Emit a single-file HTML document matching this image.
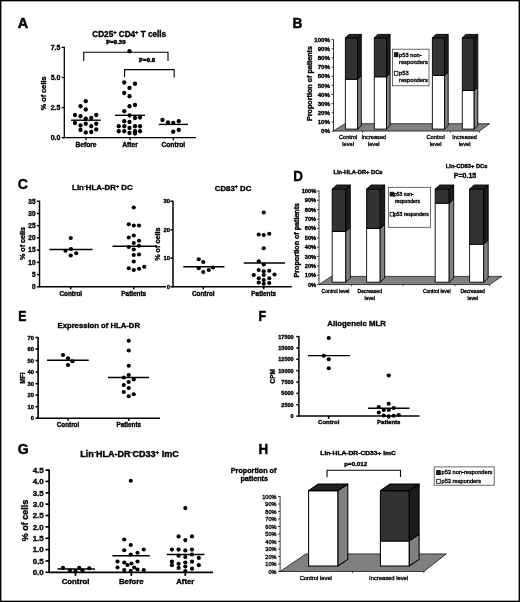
<!DOCTYPE html>
<html lang="en"><head><meta charset="utf-8"><title>Figure</title>
<style>
html,body{margin:0;padding:0;background:#fff;}
body{width:520px;height:602px;overflow:hidden;}
svg{display:block;}
svg text{fill:#000;}
svg text[font-weight=bold]{stroke:#000;stroke-width:0.36px;}
svg text[font-weight=normal]{stroke:#000;stroke-width:0.34px;}
</style></head><body>
<svg width="520" height="602" viewBox="0 0 520 602">
<rect x="0" y="0" width="520" height="602" fill="#fff"/>
<defs><filter id="soft" filterUnits="userSpaceOnUse" x="0" y="0" width="520" height="602"><feGaussianBlur stdDeviation="0.38"/></filter></defs>
<rect x="0.7" y="0.65" width="518.6" height="600.7" fill="none" stroke="#000" stroke-width="1.4"/>
<g filter="url(#soft)">
<text x="17.8" y="28" font-size="14.5" font-weight="bold" text-anchor="start" font-family='"Liberation Sans", Arial, sans-serif' style="stroke-width:0.45px">A</text>
<g transform="translate(292.4 27.6) scale(0.95 1)">
<text x="0" y="0" font-size="14.5" font-weight="bold" text-anchor="start" font-family='"Liberation Sans", Arial, sans-serif' style="stroke-width:0.45px">B</text>
</g>
<g transform="translate(17.8 188.5) scale(0.97 1)">
<text x="0" y="0" font-size="14.5" font-weight="bold" text-anchor="start" font-family='"Liberation Sans", Arial, sans-serif' style="stroke-width:0.45px">C</text>
</g>
<g transform="translate(293.3 181.3) scale(0.92 1)">
<text x="0" y="0" font-size="14.5" font-weight="bold" text-anchor="start" font-family='"Liberation Sans", Arial, sans-serif' style="stroke-width:0.45px">D</text>
</g>
<g transform="translate(18.3 320.8) scale(0.84 1)">
<text x="0" y="0" font-size="14.5" font-weight="bold" text-anchor="start" font-family='"Liberation Sans", Arial, sans-serif' style="stroke-width:0.45px">E</text>
</g>
<g transform="translate(258.5 320.6) scale(0.86 1)">
<text x="0" y="0" font-size="14.5" font-weight="bold" text-anchor="start" font-family='"Liberation Sans", Arial, sans-serif' style="stroke-width:0.45px">F</text>
</g>
<g transform="translate(17.8 453.5) scale(0.97 1)">
<text x="0" y="0" font-size="14.5" font-weight="bold" text-anchor="start" font-family='"Liberation Sans", Arial, sans-serif' style="stroke-width:0.45px">G</text>
</g>
<g transform="translate(258.4 453.5) scale(0.92 1)">
<text x="0" y="0" font-size="14.5" font-weight="bold" text-anchor="start" font-family='"Liberation Sans", Arial, sans-serif' style="stroke-width:0.45px">H</text>
</g>
<g transform="translate(129.2 37.0) scale(1 1)">
<text x="0" y="0" font-size="8.2" font-weight="bold" text-anchor="middle" style="white-space:pre" font-family='"Liberation Sans", Arial, sans-serif'><tspan dy="0">CD25</tspan><tspan dy="-2.8" font-size="5.6">+</tspan><tspan dy="2.8"> CD4</tspan><tspan dy="-2.8" font-size="5.6">+</tspan><tspan dy="2.8"> T cells</tspan></text></g>
<line x1="64.3" y1="46.8" x2="64.3" y2="138.2" stroke="#000" stroke-width="1.3"/>
<line x1="63.8" y1="137.7" x2="196" y2="137.7" stroke="#000" stroke-width="1.3"/>
<line x1="61.699999999999996" y1="47.32499999999999" x2="64.3" y2="47.32499999999999" stroke="#000" stroke-width="1.3"/>
<text x="60.3" y="49.80899999999999" font-size="6.9" font-weight="bold" text-anchor="end" font-family='"Liberation Sans", Arial, sans-serif'>7.5</text>
<line x1="61.699999999999996" y1="77.44999999999999" x2="64.3" y2="77.44999999999999" stroke="#000" stroke-width="1.3"/>
<text x="60.3" y="79.93399999999998" font-size="6.9" font-weight="bold" text-anchor="end" font-family='"Liberation Sans", Arial, sans-serif'>5.0</text>
<line x1="61.699999999999996" y1="107.57499999999999" x2="64.3" y2="107.57499999999999" stroke="#000" stroke-width="1.3"/>
<text x="60.3" y="110.05899999999998" font-size="6.9" font-weight="bold" text-anchor="end" font-family='"Liberation Sans", Arial, sans-serif'>2.5</text>
<line x1="61.699999999999996" y1="137.7" x2="64.3" y2="137.7" stroke="#000" stroke-width="1.3"/>
<text x="60.3" y="140.184" font-size="6.9" font-weight="bold" text-anchor="end" font-family='"Liberation Sans", Arial, sans-serif'>0.0</text>
<line x1="86" y1="137.7" x2="86" y2="140.29999999999998" stroke="#000" stroke-width="1.3"/>
<text x="86" y="147" font-size="6.7" font-weight="bold" text-anchor="middle" font-family='"Liberation Sans", Arial, sans-serif'>Before</text>
<line x1="130" y1="137.7" x2="130" y2="140.29999999999998" stroke="#000" stroke-width="1.3"/>
<text x="130" y="147" font-size="6.7" font-weight="bold" text-anchor="middle" font-family='"Liberation Sans", Arial, sans-serif'>After</text>
<line x1="173.3" y1="137.7" x2="173.3" y2="140.29999999999998" stroke="#000" stroke-width="1.3"/>
<text x="173.3" y="147" font-size="6.7" font-weight="bold" text-anchor="middle" font-family='"Liberation Sans", Arial, sans-serif'>Control</text>
<text x="45.6" y="93.3" font-size="7.3" font-weight="bold" text-anchor="middle" font-family='"Liberation Sans", Arial, sans-serif' transform="rotate(-90 45.6 93.3)">% of cells</text>
<text x="115.7" y="43.8" font-size="6.7" font-weight="bold" text-anchor="middle" font-family='"Liberation Serif", "Times New Roman", serif' style="stroke-width:0.5px">P=0.39</text>
<text x="147" y="61.7" font-size="6.7" font-weight="bold" text-anchor="middle" font-family='"Liberation Serif", "Times New Roman", serif' style="stroke-width:0.5px">P=0.6</text>
<path d="M83.7 61V52.3H168V61" fill="none" stroke="#000" stroke-width="1.1"/>
<path d="M124.6 77V69.6H174.2V77.5" fill="none" stroke="#000" stroke-width="1.1"/>
<line x1="71" y1="120.2" x2="100.8" y2="120.2" stroke="#000" stroke-width="1.4"/>
<line x1="115" y1="115.3" x2="145" y2="115.3" stroke="#000" stroke-width="1.4"/>
<line x1="158.8" y1="124.4" x2="188" y2="124.4" stroke="#000" stroke-width="1.4"/>
<circle cx="85.75" cy="101.25" r="2.15"/>
<circle cx="80.5" cy="106.25" r="2.15"/>
<circle cx="85.75" cy="109.5" r="2.15"/>
<circle cx="75" cy="115" r="2.15"/>
<circle cx="80.5" cy="116.25" r="2.15"/>
<circle cx="96.25" cy="115" r="2.15"/>
<circle cx="85.75" cy="118.75" r="2.15"/>
<circle cx="91.25" cy="118" r="2.15"/>
<circle cx="75" cy="123" r="2.15"/>
<circle cx="85.75" cy="123.75" r="2.15"/>
<circle cx="96.25" cy="123.75" r="2.15"/>
<circle cx="80.5" cy="125.5" r="2.15"/>
<circle cx="91.25" cy="126.25" r="2.15"/>
<circle cx="80.5" cy="130" r="2.15"/>
<circle cx="96.25" cy="129.5" r="2.15"/>
<circle cx="85.75" cy="132.5" r="2.15"/>
<circle cx="91.25" cy="132" r="2.15"/>
<circle cx="129.5" cy="51.25" r="2.15"/>
<circle cx="124.25" cy="82.5" r="2.15"/>
<circle cx="135" cy="83.75" r="2.15"/>
<circle cx="129.5" cy="88" r="2.15"/>
<circle cx="124.25" cy="93" r="2.15"/>
<circle cx="129.5" cy="96.25" r="2.15"/>
<circle cx="135" cy="105" r="2.15"/>
<circle cx="129.5" cy="106.25" r="2.15"/>
<circle cx="124.25" cy="111.25" r="2.15"/>
<circle cx="129.5" cy="115.5" r="2.15"/>
<circle cx="140" cy="117.5" r="2.15"/>
<circle cx="135" cy="118" r="2.15"/>
<circle cx="124.25" cy="121.25" r="2.15"/>
<circle cx="129.5" cy="122" r="2.15"/>
<circle cx="118.75" cy="126.25" r="2.15"/>
<circle cx="124.25" cy="126.25" r="2.15"/>
<circle cx="135" cy="126.25" r="2.15"/>
<circle cx="140" cy="126.25" r="2.15"/>
<circle cx="129.5" cy="128" r="2.15"/>
<circle cx="118.75" cy="131.25" r="2.15"/>
<circle cx="124.25" cy="131.25" r="2.15"/>
<circle cx="135" cy="131.25" r="2.15"/>
<circle cx="140" cy="131.25" r="2.15"/>
<circle cx="129.5" cy="133" r="2.15"/>
<circle cx="135" cy="133.5" r="2.15"/>
<circle cx="162.5" cy="120" r="2.15"/>
<circle cx="168" cy="122.5" r="2.15"/>
<circle cx="173.25" cy="123" r="2.15"/>
<circle cx="178.75" cy="121.25" r="2.15"/>
<circle cx="173.25" cy="131.75" r="2.15"/>
<circle cx="178.75" cy="130" r="2.15"/>
<g transform="translate(102.4 190.3) scale(1 1)">
<text x="0" y="0" font-size="7.9" font-weight="bold" text-anchor="middle" style="white-space:pre" font-family='"Liberation Sans", Arial, sans-serif'><tspan dy="0">Lin</tspan><tspan dy="-2.7" font-size="5.4">-</tspan><tspan dy="2.7">HLA-DR</tspan><tspan dy="-2.7" font-size="5.4">+</tspan><tspan dy="2.7"> DC</tspan></text></g>
<line x1="39.5" y1="200.75" x2="39.5" y2="287.25" stroke="#000" stroke-width="1.5"/>
<line x1="39.0" y1="286.75" x2="166" y2="286.75" stroke="#000" stroke-width="1.5"/>
<line x1="36.9" y1="201.245" x2="39.5" y2="201.245" stroke="#000" stroke-width="1.5"/>
<text x="35.5" y="203.585" font-size="6.5" font-weight="bold" text-anchor="end" font-family='"Liberation Sans", Arial, sans-serif'>35</text>
<line x1="36.9" y1="213.45999999999998" x2="39.5" y2="213.45999999999998" stroke="#000" stroke-width="1.5"/>
<text x="35.5" y="215.79999999999998" font-size="6.5" font-weight="bold" text-anchor="end" font-family='"Liberation Sans", Arial, sans-serif'>30</text>
<line x1="36.9" y1="225.675" x2="39.5" y2="225.675" stroke="#000" stroke-width="1.5"/>
<text x="35.5" y="228.01500000000001" font-size="6.5" font-weight="bold" text-anchor="end" font-family='"Liberation Sans", Arial, sans-serif'>25</text>
<line x1="36.9" y1="237.89" x2="39.5" y2="237.89" stroke="#000" stroke-width="1.5"/>
<text x="35.5" y="240.23" font-size="6.5" font-weight="bold" text-anchor="end" font-family='"Liberation Sans", Arial, sans-serif'>20</text>
<line x1="36.9" y1="250.105" x2="39.5" y2="250.105" stroke="#000" stroke-width="1.5"/>
<text x="35.5" y="252.445" font-size="6.5" font-weight="bold" text-anchor="end" font-family='"Liberation Sans", Arial, sans-serif'>15</text>
<line x1="36.9" y1="262.32" x2="39.5" y2="262.32" stroke="#000" stroke-width="1.5"/>
<text x="35.5" y="264.65999999999997" font-size="6.5" font-weight="bold" text-anchor="end" font-family='"Liberation Sans", Arial, sans-serif'>10</text>
<line x1="36.9" y1="274.535" x2="39.5" y2="274.535" stroke="#000" stroke-width="1.5"/>
<text x="35.5" y="276.875" font-size="6.5" font-weight="bold" text-anchor="end" font-family='"Liberation Sans", Arial, sans-serif'>5</text>
<line x1="36.9" y1="286.75" x2="39.5" y2="286.75" stroke="#000" stroke-width="1.5"/>
<text x="35.5" y="289.09" font-size="6.5" font-weight="bold" text-anchor="end" font-family='"Liberation Sans", Arial, sans-serif'>0</text>
<line x1="70.75" y1="286.75" x2="70.75" y2="289.35" stroke="#000" stroke-width="1.5"/>
<text x="70.75" y="295.5" font-size="6.4" font-weight="bold" text-anchor="middle" font-family='"Liberation Sans", Arial, sans-serif'>Control</text>
<line x1="133.75" y1="286.75" x2="133.75" y2="289.35" stroke="#000" stroke-width="1.5"/>
<text x="133.75" y="295.5" font-size="6.4" font-weight="bold" text-anchor="middle" font-family='"Liberation Sans", Arial, sans-serif'>Patients</text>
<text x="25.2" y="243.5" font-size="7.2" font-weight="bold" text-anchor="middle" font-family='"Liberation Sans", Arial, sans-serif' transform="rotate(-90 25.2 243.5)">% of cells</text>
<line x1="49.5" y1="249.5" x2="92.5" y2="249.5" stroke="#000" stroke-width="1.4"/>
<line x1="112.5" y1="246.25" x2="157" y2="246.25" stroke="#000" stroke-width="1.4"/>
<circle cx="70.75" cy="238" r="2.1"/>
<circle cx="65.5" cy="250.75" r="2.1"/>
<circle cx="71" cy="249" r="2.1"/>
<circle cx="76.25" cy="253.25" r="2.1"/>
<circle cx="70.75" cy="255.5" r="2.1"/>
<circle cx="133.75" cy="207.5" r="2.1"/>
<circle cx="128.75" cy="224.25" r="2.1"/>
<circle cx="133.75" cy="225.5" r="2.1"/>
<circle cx="139" cy="225.5" r="2.1"/>
<circle cx="133.75" cy="235.5" r="2.1"/>
<circle cx="128.75" cy="237.5" r="2.1"/>
<circle cx="139" cy="240.75" r="2.1"/>
<circle cx="133.75" cy="243" r="2.1"/>
<circle cx="128.75" cy="247" r="2.1"/>
<circle cx="139" cy="245.75" r="2.1"/>
<circle cx="133.75" cy="249.5" r="2.1"/>
<circle cx="139" cy="254.5" r="2.1"/>
<circle cx="133.75" cy="255" r="2.1"/>
<circle cx="133.75" cy="261.5" r="2.1"/>
<circle cx="128.75" cy="268.25" r="2.1"/>
<circle cx="144.25" cy="266.75" r="2.1"/>
<circle cx="133.75" cy="270" r="2.1"/>
<circle cx="139" cy="268.75" r="2.1"/>
<g transform="translate(233.1 190.5) scale(1 1)">
<text x="0" y="0" font-size="7.8" font-weight="bold" text-anchor="middle" style="white-space:pre" font-family='"Liberation Sans", Arial, sans-serif'><tspan dy="0">CD83</tspan><tspan dy="-2.7" font-size="5.4">+</tspan><tspan dy="2.7"> DC</tspan></text></g>
<line x1="173" y1="200.75" x2="173" y2="287.25" stroke="#000" stroke-width="1.5"/>
<line x1="172.5" y1="286.75" x2="291.75" y2="286.75" stroke="#000" stroke-width="1.5"/>
<line x1="170.4" y1="201.25" x2="173" y2="201.25" stroke="#000" stroke-width="1.5"/>
<text x="169.9" y="203.338" font-size="5.8" font-weight="bold" text-anchor="end" font-family='"Liberation Sans", Arial, sans-serif'>30</text>
<line x1="170.4" y1="229.75" x2="173" y2="229.75" stroke="#000" stroke-width="1.5"/>
<text x="169.9" y="231.838" font-size="5.8" font-weight="bold" text-anchor="end" font-family='"Liberation Sans", Arial, sans-serif'>20</text>
<line x1="170.4" y1="258.25" x2="173" y2="258.25" stroke="#000" stroke-width="1.5"/>
<text x="169.9" y="260.338" font-size="5.8" font-weight="bold" text-anchor="end" font-family='"Liberation Sans", Arial, sans-serif'>10</text>
<line x1="170.4" y1="286.75" x2="173" y2="286.75" stroke="#000" stroke-width="1.5"/>
<text x="169.9" y="288.838" font-size="5.8" font-weight="bold" text-anchor="end" font-family='"Liberation Sans", Arial, sans-serif'>0</text>
<line x1="203.25" y1="286.75" x2="203.25" y2="289.35" stroke="#000" stroke-width="1.5"/>
<text x="203.25" y="295.5" font-size="6.4" font-weight="bold" text-anchor="middle" font-family='"Liberation Sans", Arial, sans-serif'>Control</text>
<line x1="263.75" y1="286.75" x2="263.75" y2="289.35" stroke="#000" stroke-width="1.5"/>
<text x="263.75" y="295.5" font-size="6.4" font-weight="bold" text-anchor="middle" font-family='"Liberation Sans", Arial, sans-serif'>Patients</text>
<text x="160.3" y="244.2" font-size="7.2" font-weight="bold" text-anchor="middle" font-family='"Liberation Sans", Arial, sans-serif' transform="rotate(-90 160.3 244.2)">% of cells</text>
<line x1="183.25" y1="266.75" x2="224.5" y2="266.75" stroke="#000" stroke-width="1.4"/>
<line x1="243.75" y1="263" x2="285" y2="263" stroke="#000" stroke-width="1.4"/>
<circle cx="198.75" cy="259.25" r="2.1"/>
<circle cx="203.25" cy="262" r="2.1"/>
<circle cx="198.75" cy="268.25" r="2.1"/>
<circle cx="213" cy="267.5" r="2.1"/>
<circle cx="208.75" cy="270" r="2.1"/>
<circle cx="203.25" cy="272" r="2.1"/>
<circle cx="263.75" cy="212.5" r="2.1"/>
<circle cx="258.75" cy="234.5" r="2.1"/>
<circle cx="263.75" cy="235" r="2.1"/>
<circle cx="269.25" cy="233.75" r="2.1"/>
<circle cx="263.75" cy="248.25" r="2.1"/>
<circle cx="258.75" cy="261.25" r="2.1"/>
<circle cx="263.75" cy="264.5" r="2.1"/>
<circle cx="258.75" cy="270" r="2.1"/>
<circle cx="269.25" cy="270.75" r="2.1"/>
<circle cx="263.75" cy="271.25" r="2.1"/>
<circle cx="253.75" cy="275" r="2.1"/>
<circle cx="263.75" cy="275" r="2.1"/>
<circle cx="274.5" cy="274.5" r="2.1"/>
<circle cx="258.75" cy="278.25" r="2.1"/>
<circle cx="269.25" cy="278.25" r="2.1"/>
<circle cx="263.75" cy="280" r="2.1"/>
<circle cx="258.75" cy="282.5" r="2.1"/>
<circle cx="269.25" cy="283" r="2.1"/>
<circle cx="263.75" cy="283.75" r="2.1"/>
<text x="98.75" y="328" font-size="7.7" font-weight="bold" text-anchor="middle" font-family='"Liberation Sans", Arial, sans-serif'>Expression of HLA-DR</text>
<line x1="38.1" y1="336.99" x2="38.1" y2="418.7" stroke="#000" stroke-width="1.6"/>
<line x1="37.6" y1="418.2" x2="160" y2="418.2" stroke="#000" stroke-width="1.6"/>
<line x1="35.5" y1="337.49" x2="38.1" y2="337.49" stroke="#000" stroke-width="1.6"/>
<text x="34.0" y="339.57800000000003" font-size="5.8" font-weight="bold" text-anchor="end" font-family='"Liberation Sans", Arial, sans-serif'>70</text>
<line x1="35.5" y1="349.02" x2="38.1" y2="349.02" stroke="#000" stroke-width="1.6"/>
<text x="34.0" y="351.108" font-size="5.8" font-weight="bold" text-anchor="end" font-family='"Liberation Sans", Arial, sans-serif'>60</text>
<line x1="35.5" y1="360.55" x2="38.1" y2="360.55" stroke="#000" stroke-width="1.6"/>
<text x="34.0" y="362.63800000000003" font-size="5.8" font-weight="bold" text-anchor="end" font-family='"Liberation Sans", Arial, sans-serif'>50</text>
<line x1="35.5" y1="372.08" x2="38.1" y2="372.08" stroke="#000" stroke-width="1.6"/>
<text x="34.0" y="374.168" font-size="5.8" font-weight="bold" text-anchor="end" font-family='"Liberation Sans", Arial, sans-serif'>40</text>
<line x1="35.5" y1="383.61" x2="38.1" y2="383.61" stroke="#000" stroke-width="1.6"/>
<text x="34.0" y="385.69800000000004" font-size="5.8" font-weight="bold" text-anchor="end" font-family='"Liberation Sans", Arial, sans-serif'>30</text>
<line x1="35.5" y1="395.14" x2="38.1" y2="395.14" stroke="#000" stroke-width="1.6"/>
<text x="34.0" y="397.228" font-size="5.8" font-weight="bold" text-anchor="end" font-family='"Liberation Sans", Arial, sans-serif'>20</text>
<line x1="35.5" y1="406.66999999999996" x2="38.1" y2="406.66999999999996" stroke="#000" stroke-width="1.6"/>
<text x="34.0" y="408.758" font-size="5.8" font-weight="bold" text-anchor="end" font-family='"Liberation Sans", Arial, sans-serif'>10</text>
<line x1="35.5" y1="418.2" x2="38.1" y2="418.2" stroke="#000" stroke-width="1.6"/>
<text x="34.0" y="420.288" font-size="5.8" font-weight="bold" text-anchor="end" font-family='"Liberation Sans", Arial, sans-serif'>0</text>
<line x1="68" y1="418.2" x2="68" y2="420.8" stroke="#000" stroke-width="1.6"/>
<text x="68" y="426.6" font-size="6.3" font-weight="bold" text-anchor="middle" font-family='"Liberation Sans", Arial, sans-serif'>Control</text>
<line x1="128.75" y1="418.2" x2="128.75" y2="420.8" stroke="#000" stroke-width="1.6"/>
<text x="128.75" y="426.6" font-size="6.3" font-weight="bold" text-anchor="middle" font-family='"Liberation Sans", Arial, sans-serif'>Patients</text>
<text x="24.6" y="378.1" font-size="6.5" font-weight="bold" text-anchor="middle" font-family='"Liberation Sans", Arial, sans-serif' transform="rotate(-90 24.6 378.1)">MFI</text>
<line x1="47" y1="360.3" x2="88.75" y2="360.3" stroke="#000" stroke-width="1.4"/>
<line x1="108" y1="377.5" x2="149" y2="377.5" stroke="#000" stroke-width="1.4"/>
<circle cx="63" cy="355" r="2.1"/>
<circle cx="68" cy="358.25" r="2.1"/>
<circle cx="72.5" cy="361.25" r="2.1"/>
<circle cx="68" cy="365" r="2.1"/>
<circle cx="128.75" cy="340.75" r="2.1"/>
<circle cx="128.75" cy="350.5" r="2.1"/>
<circle cx="128.75" cy="365.75" r="2.1"/>
<circle cx="128.75" cy="375" r="2.1"/>
<circle cx="123.75" cy="377.5" r="2.1"/>
<circle cx="133.75" cy="379.5" r="2.1"/>
<circle cx="128.75" cy="382" r="2.1"/>
<circle cx="123.75" cy="385" r="2.1"/>
<circle cx="128.75" cy="388" r="2.1"/>
<circle cx="123.75" cy="392" r="2.1"/>
<circle cx="133.75" cy="394.25" r="2.1"/>
<circle cx="128.75" cy="396.25" r="2.1"/>
<text x="356.6" y="326.3" font-size="7.8" font-weight="bold" text-anchor="middle" font-family='"Liberation Sans", Arial, sans-serif'>Allogeneic MLR</text>
<line x1="298.9" y1="336.0975" x2="298.9" y2="416.6" stroke="#000" stroke-width="1.5"/>
<line x1="298.4" y1="416.1" x2="419.5" y2="416.1" stroke="#000" stroke-width="1.5"/>
<line x1="296.29999999999995" y1="336.5975" x2="298.9" y2="336.5975" stroke="#000" stroke-width="1.5"/>
<text x="293.59999999999997" y="338.57750000000004" font-size="5.5" font-weight="bold" text-anchor="end" font-family='"Liberation Sans", Arial, sans-serif'>17500</text>
<line x1="296.29999999999995" y1="347.95500000000004" x2="298.9" y2="347.95500000000004" stroke="#000" stroke-width="1.5"/>
<text x="293.59999999999997" y="349.93500000000006" font-size="5.5" font-weight="bold" text-anchor="end" font-family='"Liberation Sans", Arial, sans-serif'>15000</text>
<line x1="296.29999999999995" y1="359.3125" x2="298.9" y2="359.3125" stroke="#000" stroke-width="1.5"/>
<text x="293.59999999999997" y="361.2925" font-size="5.5" font-weight="bold" text-anchor="end" font-family='"Liberation Sans", Arial, sans-serif'>12500</text>
<line x1="296.29999999999995" y1="370.67" x2="298.9" y2="370.67" stroke="#000" stroke-width="1.5"/>
<text x="293.59999999999997" y="372.65000000000003" font-size="5.5" font-weight="bold" text-anchor="end" font-family='"Liberation Sans", Arial, sans-serif'>10000</text>
<line x1="296.29999999999995" y1="382.02750000000003" x2="298.9" y2="382.02750000000003" stroke="#000" stroke-width="1.5"/>
<text x="293.59999999999997" y="384.00750000000005" font-size="5.5" font-weight="bold" text-anchor="end" font-family='"Liberation Sans", Arial, sans-serif'>7500</text>
<line x1="296.29999999999995" y1="393.38500000000005" x2="298.9" y2="393.38500000000005" stroke="#000" stroke-width="1.5"/>
<text x="293.59999999999997" y="395.36500000000007" font-size="5.5" font-weight="bold" text-anchor="end" font-family='"Liberation Sans", Arial, sans-serif'>5000</text>
<line x1="296.29999999999995" y1="404.7425" x2="298.9" y2="404.7425" stroke="#000" stroke-width="1.5"/>
<text x="293.59999999999997" y="406.7225" font-size="5.5" font-weight="bold" text-anchor="end" font-family='"Liberation Sans", Arial, sans-serif'>2500</text>
<line x1="296.29999999999995" y1="416.1" x2="298.9" y2="416.1" stroke="#000" stroke-width="1.5"/>
<text x="293.59999999999997" y="418.08000000000004" font-size="5.5" font-weight="bold" text-anchor="end" font-family='"Liberation Sans", Arial, sans-serif'>0</text>
<line x1="328.75" y1="416.1" x2="328.75" y2="418.70000000000005" stroke="#000" stroke-width="1.5"/>
<text x="328.75" y="423.8" font-size="6.0" font-weight="bold" text-anchor="middle" font-family='"Liberation Sans", Arial, sans-serif'>Control</text>
<line x1="388.75" y1="416.1" x2="388.75" y2="418.70000000000005" stroke="#000" stroke-width="1.5"/>
<text x="388.75" y="423.8" font-size="6.0" font-weight="bold" text-anchor="middle" font-family='"Liberation Sans", Arial, sans-serif'>Patients</text>
<text x="274.7" y="376.3" font-size="6.4" font-weight="bold" text-anchor="middle" font-family='"Liberation Sans", Arial, sans-serif' transform="rotate(-90 274.7 376.3)">CPM</text>
<line x1="308" y1="355.6" x2="350" y2="355.6" stroke="#000" stroke-width="1.4"/>
<line x1="368" y1="408.25" x2="409.5" y2="408.25" stroke="#000" stroke-width="1.4"/>
<circle cx="328.75" cy="338" r="2.1"/>
<circle cx="323.75" cy="355.75" r="2.1"/>
<circle cx="328.75" cy="359.25" r="2.1"/>
<circle cx="328.75" cy="368.25" r="2.1"/>
<circle cx="388.75" cy="375.5" r="2.1"/>
<circle cx="388.75" cy="403.75" r="2.1"/>
<circle cx="378.75" cy="407" r="2.1"/>
<circle cx="393.75" cy="408" r="2.1"/>
<circle cx="383.75" cy="410" r="2.1"/>
<circle cx="388.75" cy="410" r="2.1"/>
<circle cx="378.75" cy="412.5" r="2.1"/>
<circle cx="383.75" cy="415.5" r="2.1"/>
<circle cx="388.75" cy="416.25" r="2.1"/>
<circle cx="393.75" cy="415.75" r="2.1"/>
<circle cx="398.75" cy="415" r="2.1"/>
<g transform="translate(129.5 457.2) scale(1.1 1)">
<text x="0" y="0" font-size="8.2" font-weight="bold" text-anchor="middle" style="white-space:pre" font-family='"Liberation Sans", Arial, sans-serif'><tspan dy="0">Lin</tspan><tspan dy="-2.8" font-size="5.6">-</tspan><tspan dy="2.8">HLA-DR</tspan><tspan dy="-2.8" font-size="5.6">-</tspan><tspan dy="2.8">CD33</tspan><tspan dy="-2.8" font-size="5.6">+</tspan><tspan dy="2.8"> ImC</tspan></text></g>
<line x1="49.1" y1="469.60499999999996" x2="49.1" y2="572.8" stroke="#000" stroke-width="1.7"/>
<line x1="48.6" y1="572.3" x2="213" y2="572.3" stroke="#000" stroke-width="1.7"/>
<line x1="45.5" y1="470.10499999999996" x2="49.1" y2="470.10499999999996" stroke="#000" stroke-width="1.7"/>
<text x="43.7" y="472.94899999999996" font-size="7.9" font-weight="bold" text-anchor="end" font-family='"Liberation Sans", Arial, sans-serif'>4.5</text>
<line x1="45.5" y1="481.4599999999999" x2="49.1" y2="481.4599999999999" stroke="#000" stroke-width="1.7"/>
<text x="43.7" y="484.3039999999999" font-size="7.9" font-weight="bold" text-anchor="end" font-family='"Liberation Sans", Arial, sans-serif'>4.0</text>
<line x1="45.5" y1="492.81499999999994" x2="49.1" y2="492.81499999999994" stroke="#000" stroke-width="1.7"/>
<text x="43.7" y="495.65899999999993" font-size="7.9" font-weight="bold" text-anchor="end" font-family='"Liberation Sans", Arial, sans-serif'>3.5</text>
<line x1="45.5" y1="504.16999999999996" x2="49.1" y2="504.16999999999996" stroke="#000" stroke-width="1.7"/>
<text x="43.7" y="507.01399999999995" font-size="7.9" font-weight="bold" text-anchor="end" font-family='"Liberation Sans", Arial, sans-serif'>3.0</text>
<line x1="45.5" y1="515.525" x2="49.1" y2="515.525" stroke="#000" stroke-width="1.7"/>
<text x="43.7" y="518.369" font-size="7.9" font-weight="bold" text-anchor="end" font-family='"Liberation Sans", Arial, sans-serif'>2.5</text>
<line x1="45.5" y1="526.88" x2="49.1" y2="526.88" stroke="#000" stroke-width="1.7"/>
<text x="43.7" y="529.724" font-size="7.9" font-weight="bold" text-anchor="end" font-family='"Liberation Sans", Arial, sans-serif'>2.0</text>
<line x1="45.5" y1="538.2349999999999" x2="49.1" y2="538.2349999999999" stroke="#000" stroke-width="1.7"/>
<text x="43.7" y="541.079" font-size="7.9" font-weight="bold" text-anchor="end" font-family='"Liberation Sans", Arial, sans-serif'>1.5</text>
<line x1="45.5" y1="549.5899999999999" x2="49.1" y2="549.5899999999999" stroke="#000" stroke-width="1.7"/>
<text x="43.7" y="552.434" font-size="7.9" font-weight="bold" text-anchor="end" font-family='"Liberation Sans", Arial, sans-serif'>1.0</text>
<line x1="45.5" y1="560.9449999999999" x2="49.1" y2="560.9449999999999" stroke="#000" stroke-width="1.7"/>
<text x="43.7" y="563.789" font-size="7.9" font-weight="bold" text-anchor="end" font-family='"Liberation Sans", Arial, sans-serif'>0.5</text>
<line x1="45.5" y1="572.3" x2="49.1" y2="572.3" stroke="#000" stroke-width="1.7"/>
<text x="43.7" y="575.144" font-size="7.9" font-weight="bold" text-anchor="end" font-family='"Liberation Sans", Arial, sans-serif'>0.0</text>
<line x1="75.5" y1="572.3" x2="75.5" y2="575.9" stroke="#000" stroke-width="1.7"/>
<text x="75.5" y="584" font-size="7.8" font-weight="bold" text-anchor="middle" font-family='"Liberation Sans", Arial, sans-serif'>Control</text>
<line x1="131.3" y1="572.3" x2="131.3" y2="575.9" stroke="#000" stroke-width="1.7"/>
<text x="131.3" y="584" font-size="7.8" font-weight="bold" text-anchor="middle" font-family='"Liberation Sans", Arial, sans-serif'>Before</text>
<line x1="185.3" y1="572.3" x2="185.3" y2="575.9" stroke="#000" stroke-width="1.7"/>
<text x="185.3" y="584" font-size="7.8" font-weight="bold" text-anchor="middle" font-family='"Liberation Sans", Arial, sans-serif'>After</text>
<text x="28.2" y="520.4" font-size="9.0" font-weight="bold" text-anchor="middle" font-family='"Liberation Sans", Arial, sans-serif' transform="rotate(-90 28.2 520.4)">% of cells</text>
<line x1="57.5" y1="569" x2="95" y2="569" stroke="#000" stroke-width="1.5"/>
<line x1="112.3" y1="555.7" x2="149.8" y2="555.7" stroke="#000" stroke-width="1.5"/>
<line x1="166.8" y1="554.4" x2="204.4" y2="554.4" stroke="#000" stroke-width="1.5"/>
<circle cx="63" cy="567.75" r="2.1"/>
<circle cx="70" cy="570.25" r="2.1"/>
<circle cx="75.5" cy="571" r="2.1"/>
<circle cx="79.25" cy="567.75" r="2.1"/>
<circle cx="82.5" cy="570.25" r="2.1"/>
<circle cx="89.25" cy="568.25" r="2.1"/>
<circle cx="130.75" cy="480.75" r="2.1"/>
<circle cx="124.25" cy="539.5" r="2.1"/>
<circle cx="130.75" cy="545" r="2.1"/>
<circle cx="124.25" cy="550.25" r="2.1"/>
<circle cx="143.75" cy="549.5" r="2.1"/>
<circle cx="137.5" cy="552.75" r="2.1"/>
<circle cx="130.75" cy="554.5" r="2.1"/>
<circle cx="117.5" cy="561.5" r="2.1"/>
<circle cx="124.25" cy="562.5" r="2.1"/>
<circle cx="137.5" cy="561.5" r="2.1"/>
<circle cx="127.5" cy="565" r="2.1"/>
<circle cx="131.5" cy="563.5" r="2.1"/>
<circle cx="117.5" cy="567.5" r="2.1"/>
<circle cx="134.25" cy="567.5" r="2.1"/>
<circle cx="124.25" cy="570" r="2.1"/>
<circle cx="130.75" cy="570.75" r="2.1"/>
<circle cx="137.5" cy="569.5" r="2.1"/>
<circle cx="143.75" cy="570" r="2.1"/>
<circle cx="185.3" cy="508.1" r="2.1"/>
<circle cx="178.6" cy="536.4" r="2.1"/>
<circle cx="192" cy="536.4" r="2.1"/>
<circle cx="185.3" cy="540.1" r="2.1"/>
<circle cx="171.9" cy="549.6" r="2.1"/>
<circle cx="178.6" cy="549.6" r="2.1"/>
<circle cx="185.3" cy="550.4" r="2.1"/>
<circle cx="192" cy="549.6" r="2.1"/>
<circle cx="178.6" cy="555.7" r="2.1"/>
<circle cx="192" cy="554.5" r="2.1"/>
<circle cx="185.3" cy="557.1" r="2.1"/>
<circle cx="198.8" cy="557.9" r="2.1"/>
<circle cx="171.9" cy="561.7" r="2.1"/>
<circle cx="178.6" cy="563.8" r="2.1"/>
<circle cx="185.3" cy="562.5" r="2.1"/>
<circle cx="192" cy="561.7" r="2.1"/>
<circle cx="171.9" cy="565.2" r="2.1"/>
<circle cx="198.8" cy="565.2" r="2.1"/>
<circle cx="178.6" cy="567.9" r="2.1"/>
<circle cx="185.3" cy="566.5" r="2.1"/>
<circle cx="192" cy="568.7" r="2.1"/>
<circle cx="185.3" cy="571.1" r="2.1"/>
<path d="M333.5 131.1L344.9 123.69999999999999H489.59999999999997L479.4 131.1Z" fill="#808080" stroke="#000" stroke-width="0.7" stroke-linejoin="round"/>
<line x1="333.5" y1="39.300000000000004" x2="333.5" y2="131.1" stroke="#000" stroke-width="0.8"/>
<line x1="331.4" y1="131.1" x2="333.5" y2="131.1" stroke="#000" stroke-width="0.7"/>
<text x="329.9" y="133.296" font-size="6.1" font-weight="bold" text-anchor="end" font-family='"Liberation Sans", Arial, sans-serif'>0%</text>
<line x1="331.4" y1="121.94999999999999" x2="333.5" y2="121.94999999999999" stroke="#000" stroke-width="0.7"/>
<text x="329.9" y="124.14599999999999" font-size="6.1" font-weight="bold" text-anchor="end" font-family='"Liberation Sans", Arial, sans-serif'>10%</text>
<line x1="331.4" y1="112.8" x2="333.5" y2="112.8" stroke="#000" stroke-width="0.7"/>
<text x="329.9" y="114.996" font-size="6.1" font-weight="bold" text-anchor="end" font-family='"Liberation Sans", Arial, sans-serif'>20%</text>
<line x1="331.4" y1="103.64999999999999" x2="333.5" y2="103.64999999999999" stroke="#000" stroke-width="0.7"/>
<text x="329.9" y="105.84599999999999" font-size="6.1" font-weight="bold" text-anchor="end" font-family='"Liberation Sans", Arial, sans-serif'>30%</text>
<line x1="331.4" y1="94.5" x2="333.5" y2="94.5" stroke="#000" stroke-width="0.7"/>
<text x="329.9" y="96.696" font-size="6.1" font-weight="bold" text-anchor="end" font-family='"Liberation Sans", Arial, sans-serif'>40%</text>
<line x1="331.4" y1="85.35" x2="333.5" y2="85.35" stroke="#000" stroke-width="0.7"/>
<text x="329.9" y="87.54599999999999" font-size="6.1" font-weight="bold" text-anchor="end" font-family='"Liberation Sans", Arial, sans-serif'>50%</text>
<line x1="331.4" y1="76.19999999999999" x2="333.5" y2="76.19999999999999" stroke="#000" stroke-width="0.7"/>
<text x="329.9" y="78.39599999999999" font-size="6.1" font-weight="bold" text-anchor="end" font-family='"Liberation Sans", Arial, sans-serif'>60%</text>
<line x1="331.4" y1="67.05" x2="333.5" y2="67.05" stroke="#000" stroke-width="0.7"/>
<text x="329.9" y="69.246" font-size="6.1" font-weight="bold" text-anchor="end" font-family='"Liberation Sans", Arial, sans-serif'>70%</text>
<line x1="331.4" y1="57.89999999999999" x2="333.5" y2="57.89999999999999" stroke="#000" stroke-width="0.7"/>
<text x="329.9" y="60.09599999999999" font-size="6.1" font-weight="bold" text-anchor="end" font-family='"Liberation Sans", Arial, sans-serif'>80%</text>
<line x1="331.4" y1="48.749999999999986" x2="333.5" y2="48.749999999999986" stroke="#000" stroke-width="0.7"/>
<text x="329.9" y="50.945999999999984" font-size="6.1" font-weight="bold" text-anchor="end" font-family='"Liberation Sans", Arial, sans-serif'>90%</text>
<line x1="331.4" y1="39.599999999999994" x2="333.5" y2="39.599999999999994" stroke="#000" stroke-width="0.7"/>
<text x="329.9" y="41.79599999999999" font-size="6.1" font-weight="bold" text-anchor="end" font-family='"Liberation Sans", Arial, sans-serif'>100%</text>
<line x1="362.5" y1="131.1" x2="362.5" y2="132.7" stroke="#000" stroke-width="0.7"/>
<line x1="450.3" y1="131.1" x2="450.3" y2="132.7" stroke="#000" stroke-width="0.7"/>
<line x1="479.4" y1="131.1" x2="479.4" y2="132.7" stroke="#000" stroke-width="0.7"/>
<text x="311.6" y="83.5" font-size="7.2" font-weight="bold" text-anchor="middle" font-family='"Liberation Sans", Arial, sans-serif' transform="rotate(-90 311.6 83.5)">Proportion of patients</text>
<g stroke="#000" stroke-width="0.9" stroke-linejoin="round">
<rect x="345.4" y="79.3" width="12.300000000000011" height="49.8" fill="#fff"/>
<path d="M357.7 79.3L361.3 75.89999999999999V125.69999999999999L357.7 129.1Z" fill="#808080"/>
<rect x="345.4" y="37.8" width="12.300000000000011" height="41.5" fill="#303030"/>
<path d="M357.7 37.8L361.3 34.4V75.89999999999999L357.7 79.3Z" fill="#1d1d1d"/>
<path d="M345.4 37.8L349.0 34.4H361.3L357.7 37.8Z" fill="#222"/>
</g>
<g stroke="#000" stroke-width="0.9" stroke-linejoin="round">
<rect x="374.3" y="76.8" width="12.199999999999989" height="52.3" fill="#fff"/>
<path d="M386.5 76.8L390.1 73.39999999999999V125.69999999999999L386.5 129.1Z" fill="#808080"/>
<rect x="374.3" y="37.8" width="12.199999999999989" height="39.0" fill="#303030"/>
<path d="M386.5 37.8L390.1 34.4V73.39999999999999L386.5 76.8Z" fill="#1d1d1d"/>
<path d="M374.3 37.8L377.90000000000003 34.4H390.1L386.5 37.8Z" fill="#222"/>
</g>
<g stroke="#000" stroke-width="0.9" stroke-linejoin="round">
<rect x="432.4" y="75.5" width="12.200000000000045" height="53.599999999999994" fill="#fff"/>
<path d="M444.6 75.5L448.20000000000005 72.1V125.69999999999999L444.6 129.1Z" fill="#808080"/>
<rect x="432.4" y="37.8" width="12.200000000000045" height="37.7" fill="#303030"/>
<path d="M444.6 37.8L448.20000000000005 34.4V72.1L444.6 75.5Z" fill="#1d1d1d"/>
<path d="M432.4 37.8L436.0 34.4H448.20000000000005L444.6 37.8Z" fill="#222"/>
</g>
<g stroke="#000" stroke-width="0.9" stroke-linejoin="round">
<rect x="462.3" y="90.5" width="11.899999999999977" height="38.599999999999994" fill="#fff"/>
<path d="M474.2 90.5L477.8 87.1V125.69999999999999L474.2 129.1Z" fill="#808080"/>
<rect x="462.3" y="37.8" width="11.899999999999977" height="52.7" fill="#303030"/>
<path d="M474.2 37.8L477.8 34.4V87.1L474.2 90.5Z" fill="#1d1d1d"/>
<path d="M462.3 37.8L465.90000000000003 34.4H477.8L474.2 37.8Z" fill="#222"/>
</g>
<rect x="392.4" y="49.2" width="36.6" height="36.6" fill="#fff" stroke="#444" stroke-width="0.8"/>
<rect x="394.3" y="52.7" width="3.7" height="4.0" fill="#222" stroke="#000" stroke-width="0.8"/>
<text x="399" y="56.9" font-size="5.75" font-weight="normal" text-anchor="start" font-family='"Liberation Sans", Arial, sans-serif'>p53 non-</text>
<text x="399" y="63.7" font-size="5.75" font-weight="normal" text-anchor="start" font-family='"Liberation Sans", Arial, sans-serif'>responders</text>
<rect x="394.3" y="71.3" width="3.7" height="4.0" fill="#fff" stroke="#000" stroke-width="0.8"/>
<text x="399" y="75.4" font-size="5.75" font-weight="normal" text-anchor="start" font-family='"Liberation Sans", Arial, sans-serif'>p53</text>
<text x="399" y="82.2" font-size="5.75" font-weight="normal" text-anchor="start" font-family='"Liberation Sans", Arial, sans-serif'>responders</text>
<text x="348.1" y="139.4" font-size="5.65" font-weight="normal" text-anchor="middle" font-family='"Liberation Sans", Arial, sans-serif'>Control</text>
<text x="348.1" y="146.4" font-size="5.65" font-weight="normal" text-anchor="middle" font-family='"Liberation Sans", Arial, sans-serif'>level</text>
<text x="373.8" y="139.4" font-size="5.65" font-weight="normal" text-anchor="middle" font-family='"Liberation Sans", Arial, sans-serif'>Increased</text>
<text x="373.8" y="146.4" font-size="5.65" font-weight="normal" text-anchor="middle" font-family='"Liberation Sans", Arial, sans-serif'>level</text>
<text x="435.6" y="139.4" font-size="5.65" font-weight="normal" text-anchor="middle" font-family='"Liberation Sans", Arial, sans-serif'>Control</text>
<text x="435.6" y="146.4" font-size="5.65" font-weight="normal" text-anchor="middle" font-family='"Liberation Sans", Arial, sans-serif'>level</text>
<text x="464.6" y="139.4" font-size="5.65" font-weight="normal" text-anchor="middle" font-family='"Liberation Sans", Arial, sans-serif'>Increased</text>
<text x="464.6" y="146.4" font-size="5.65" font-weight="normal" text-anchor="middle" font-family='"Liberation Sans", Arial, sans-serif'>level</text>
<path d="M319 284.6L331.3 276.40000000000003H501.90000000000003L489.6 284.6Z" fill="#808080" stroke="#000" stroke-width="0.7" stroke-linejoin="round"/>
<line x1="319" y1="190.7" x2="319" y2="284.6" stroke="#000" stroke-width="0.8"/>
<line x1="316.9" y1="284.6" x2="319" y2="284.6" stroke="#000" stroke-width="0.7"/>
<text x="316.2" y="286.65200000000004" font-size="5.7" font-weight="bold" text-anchor="end" font-family='"Liberation Sans", Arial, sans-serif'>0%</text>
<line x1="316.9" y1="275.24" x2="319" y2="275.24" stroke="#000" stroke-width="0.7"/>
<text x="316.2" y="277.29200000000003" font-size="5.7" font-weight="bold" text-anchor="end" font-family='"Liberation Sans", Arial, sans-serif'>10%</text>
<line x1="316.9" y1="265.88" x2="319" y2="265.88" stroke="#000" stroke-width="0.7"/>
<text x="316.2" y="267.932" font-size="5.7" font-weight="bold" text-anchor="end" font-family='"Liberation Sans", Arial, sans-serif'>20%</text>
<line x1="316.9" y1="256.52000000000004" x2="319" y2="256.52000000000004" stroke="#000" stroke-width="0.7"/>
<text x="316.2" y="258.57200000000006" font-size="5.7" font-weight="bold" text-anchor="end" font-family='"Liberation Sans", Arial, sans-serif'>30%</text>
<line x1="316.9" y1="247.16000000000003" x2="319" y2="247.16000000000003" stroke="#000" stroke-width="0.7"/>
<text x="316.2" y="249.21200000000002" font-size="5.7" font-weight="bold" text-anchor="end" font-family='"Liberation Sans", Arial, sans-serif'>40%</text>
<line x1="316.9" y1="237.8" x2="319" y2="237.8" stroke="#000" stroke-width="0.7"/>
<text x="316.2" y="239.852" font-size="5.7" font-weight="bold" text-anchor="end" font-family='"Liberation Sans", Arial, sans-serif'>50%</text>
<line x1="316.9" y1="228.44" x2="319" y2="228.44" stroke="#000" stroke-width="0.7"/>
<text x="316.2" y="230.492" font-size="5.7" font-weight="bold" text-anchor="end" font-family='"Liberation Sans", Arial, sans-serif'>60%</text>
<line x1="316.9" y1="219.07999999999998" x2="319" y2="219.07999999999998" stroke="#000" stroke-width="0.7"/>
<text x="316.2" y="221.13199999999998" font-size="5.7" font-weight="bold" text-anchor="end" font-family='"Liberation Sans", Arial, sans-serif'>70%</text>
<line x1="316.9" y1="209.72" x2="319" y2="209.72" stroke="#000" stroke-width="0.7"/>
<text x="316.2" y="211.772" font-size="5.7" font-weight="bold" text-anchor="end" font-family='"Liberation Sans", Arial, sans-serif'>80%</text>
<line x1="316.9" y1="200.36" x2="319" y2="200.36" stroke="#000" stroke-width="0.7"/>
<text x="316.2" y="202.412" font-size="5.7" font-weight="bold" text-anchor="end" font-family='"Liberation Sans", Arial, sans-serif'>90%</text>
<line x1="316.9" y1="191.0" x2="319" y2="191.0" stroke="#000" stroke-width="0.7"/>
<text x="316.2" y="193.052" font-size="5.7" font-weight="bold" text-anchor="end" font-family='"Liberation Sans", Arial, sans-serif'>100%</text>
<line x1="351.4" y1="284.6" x2="351.4" y2="286.20000000000005" stroke="#000" stroke-width="0.7"/>
<line x1="403" y1="284.6" x2="403" y2="286.20000000000005" stroke="#000" stroke-width="0.7"/>
<line x1="455" y1="284.6" x2="455" y2="286.20000000000005" stroke="#000" stroke-width="0.7"/>
<line x1="489.6" y1="284.6" x2="489.6" y2="286.20000000000005" stroke="#000" stroke-width="0.7"/>
<text x="299" y="240.2" font-size="7.15" font-weight="bold" text-anchor="middle" font-family='"Liberation Sans", Arial, sans-serif' transform="rotate(-90 299 240.2)">Proportion of patients</text>
<g stroke="#000" stroke-width="0.9" stroke-linejoin="round">
<rect x="332.2" y="231.5" width="13.600000000000023" height="50.69999999999999" fill="#fff"/>
<path d="M345.8 231.5L350.3 227.4V278.09999999999997L345.8 282.2Z" fill="#808080"/>
<rect x="332.2" y="189.1" width="13.600000000000023" height="42.400000000000006" fill="#303030"/>
<path d="M345.8 189.1L350.3 185.0V227.4L345.8 231.5Z" fill="#1d1d1d"/>
<path d="M332.2 189.1L336.7 185.0H350.3L345.8 189.1Z" fill="#222"/>
</g>
<g stroke="#000" stroke-width="0.9" stroke-linejoin="round">
<rect x="366.6" y="228.5" width="13.599999999999966" height="53.69999999999999" fill="#fff"/>
<path d="M380.2 228.5L384.7 224.4V278.09999999999997L380.2 282.2Z" fill="#808080"/>
<rect x="366.6" y="189.1" width="13.599999999999966" height="39.400000000000006" fill="#303030"/>
<path d="M380.2 189.1L384.7 185.0V224.4L380.2 228.5Z" fill="#1d1d1d"/>
<path d="M366.6 189.1L371.1 185.0H384.7L380.2 189.1Z" fill="#222"/>
</g>
<g stroke="#000" stroke-width="0.9" stroke-linejoin="round">
<rect x="435.2" y="203.25" width="14.0" height="78.94999999999999" fill="#fff"/>
<path d="M449.2 203.25L453.7 199.15V278.09999999999997L449.2 282.2Z" fill="#808080"/>
<rect x="435.2" y="189.1" width="14.0" height="14.150000000000006" fill="#303030"/>
<path d="M449.2 189.1L453.7 185.0V199.15L449.2 203.25Z" fill="#1d1d1d"/>
<path d="M435.2 189.1L439.7 185.0H453.7L449.2 189.1Z" fill="#222"/>
</g>
<g stroke="#000" stroke-width="0.9" stroke-linejoin="round">
<rect x="469.6" y="244.25" width="14.099999999999966" height="37.94999999999999" fill="#fff"/>
<path d="M483.7 244.25L488.2 240.15V278.09999999999997L483.7 282.2Z" fill="#808080"/>
<rect x="469.6" y="189.1" width="14.099999999999966" height="55.150000000000006" fill="#303030"/>
<path d="M483.7 189.1L488.2 185.0V240.15L483.7 244.25Z" fill="#1d1d1d"/>
<path d="M469.6 189.1L474.1 185.0H488.2L483.7 189.1Z" fill="#222"/>
</g>
<rect x="388.3" y="187.3" width="42.2" height="40" fill="#fff" stroke="#444" stroke-width="0.8"/>
<rect x="390.1" y="192.2" width="3.5" height="3.8" fill="#222" stroke="#000" stroke-width="0.8"/>
<text x="394.0" y="195.8" font-size="5.0" font-weight="normal" text-anchor="start" font-family='"Liberation Sans", Arial, sans-serif'>p53 non-</text>
<text x="394.9" y="202.8" font-size="5.0" font-weight="normal" text-anchor="start" font-family='"Liberation Sans", Arial, sans-serif'>responders</text>
<rect x="390.1" y="212.3" width="3.5" height="3.8" fill="#fff" stroke="#000" stroke-width="0.8"/>
<text x="394.0" y="216.1" font-size="5.0" font-weight="normal" text-anchor="start" font-family='"Liberation Sans", Arial, sans-serif'>p53 responders</text>
<g transform="translate(358 174) scale(1.05 1)">
<text x="0" y="0" font-size="5.5" font-weight="bold" text-anchor="middle" font-family='"Liberation Sans", Arial, sans-serif'>Lin-HLA-DR+ DCs</text>
</g>
<g transform="translate(466.6 167.6) scale(1.04 1)">
<text x="0" y="0" font-size="5.5" font-weight="bold" text-anchor="middle" font-family='"Liberation Sans", Arial, sans-serif'>Lin-CD83+ DCs</text>
</g>
<text x="465" y="178" font-size="7" font-weight="bold" text-anchor="middle" font-family='"Liberation Sans", Arial, sans-serif'>P=0.15</text>
<text x="335.5" y="292.8" font-size="5" font-weight="normal" text-anchor="middle" font-family='"Liberation Sans", Arial, sans-serif'>Control level</text>
<text x="369.8" y="292.8" font-size="5.05" font-weight="normal" text-anchor="middle" font-family='"Liberation Sans", Arial, sans-serif'>Decreased</text>
<text x="369.8" y="299.6" font-size="5.05" font-weight="normal" text-anchor="middle" font-family='"Liberation Sans", Arial, sans-serif'>level</text>
<text x="436.8" y="292.8" font-size="5" font-weight="normal" text-anchor="middle" font-family='"Liberation Sans", Arial, sans-serif'>Control level</text>
<text x="472.6" y="292.8" font-size="5.05" font-weight="normal" text-anchor="middle" font-family='"Liberation Sans", Arial, sans-serif'>Decreased</text>
<text x="472.8" y="299.6" font-size="5.05" font-weight="normal" text-anchor="middle" font-family='"Liberation Sans", Arial, sans-serif'>level</text>
<path d="M280.1 571.5L305.8 553.9H446.29999999999995L423.9 571.5Z" fill="#808080" stroke="#000" stroke-width="0.7" stroke-linejoin="round"/>
<line x1="280.1" y1="496.2" x2="280.1" y2="571.5" stroke="#000" stroke-width="0.8"/>
<line x1="278.0" y1="571.5" x2="280.1" y2="571.5" stroke="#000" stroke-width="0.7"/>
<text x="276.5" y="573.516" font-size="5.6" font-weight="normal" text-anchor="end" font-family='"Liberation Sans", Arial, sans-serif'>0%</text>
<line x1="278.0" y1="564.0" x2="280.1" y2="564.0" stroke="#000" stroke-width="0.7"/>
<text x="276.5" y="566.016" font-size="5.6" font-weight="normal" text-anchor="end" font-family='"Liberation Sans", Arial, sans-serif'>10%</text>
<line x1="278.0" y1="556.5" x2="280.1" y2="556.5" stroke="#000" stroke-width="0.7"/>
<text x="276.5" y="558.516" font-size="5.6" font-weight="normal" text-anchor="end" font-family='"Liberation Sans", Arial, sans-serif'>20%</text>
<line x1="278.0" y1="549.0" x2="280.1" y2="549.0" stroke="#000" stroke-width="0.7"/>
<text x="276.5" y="551.016" font-size="5.6" font-weight="normal" text-anchor="end" font-family='"Liberation Sans", Arial, sans-serif'>30%</text>
<line x1="278.0" y1="541.5" x2="280.1" y2="541.5" stroke="#000" stroke-width="0.7"/>
<text x="276.5" y="543.516" font-size="5.6" font-weight="normal" text-anchor="end" font-family='"Liberation Sans", Arial, sans-serif'>40%</text>
<line x1="278.0" y1="534.0" x2="280.1" y2="534.0" stroke="#000" stroke-width="0.7"/>
<text x="276.5" y="536.016" font-size="5.6" font-weight="normal" text-anchor="end" font-family='"Liberation Sans", Arial, sans-serif'>50%</text>
<line x1="278.0" y1="526.5" x2="280.1" y2="526.5" stroke="#000" stroke-width="0.7"/>
<text x="276.5" y="528.516" font-size="5.6" font-weight="normal" text-anchor="end" font-family='"Liberation Sans", Arial, sans-serif'>60%</text>
<line x1="278.0" y1="519.0" x2="280.1" y2="519.0" stroke="#000" stroke-width="0.7"/>
<text x="276.5" y="521.016" font-size="5.6" font-weight="normal" text-anchor="end" font-family='"Liberation Sans", Arial, sans-serif'>70%</text>
<line x1="278.0" y1="511.5" x2="280.1" y2="511.5" stroke="#000" stroke-width="0.7"/>
<text x="276.5" y="513.516" font-size="5.6" font-weight="normal" text-anchor="end" font-family='"Liberation Sans", Arial, sans-serif'>80%</text>
<line x1="278.0" y1="504.0" x2="280.1" y2="504.0" stroke="#000" stroke-width="0.7"/>
<text x="276.5" y="506.016" font-size="5.6" font-weight="normal" text-anchor="end" font-family='"Liberation Sans", Arial, sans-serif'>90%</text>
<line x1="278.0" y1="496.5" x2="280.1" y2="496.5" stroke="#000" stroke-width="0.7"/>
<text x="276.5" y="498.516" font-size="5.6" font-weight="normal" text-anchor="end" font-family='"Liberation Sans", Arial, sans-serif'>100%</text>
<line x1="352.5" y1="571.5" x2="352.5" y2="573.1" stroke="#000" stroke-width="0.7"/>
<line x1="423.9" y1="571.5" x2="423.9" y2="573.1" stroke="#000" stroke-width="0.7"/>
<text x="253.6" y="473" font-size="7.2" font-weight="bold" text-anchor="middle" font-family='"Liberation Sans", Arial, sans-serif'>Proportion of</text>
<text x="254.2" y="480.5" font-size="7.2" font-weight="bold" text-anchor="middle" font-family='"Liberation Sans", Arial, sans-serif'>patients</text>
<g stroke="#000" stroke-width="1.05" stroke-linejoin="round">
<rect x="308.6" y="490.6" width="29.399999999999977" height="75.39999999999998" fill="#fff"/>
<path d="M338 490.6L347.8 484.0V559.4L338 566Z" fill="#808080"/>
<path d="M308.6 490.6L318.40000000000003 484.0H347.8L338 490.6Z" fill="#222"/>
</g>
<g stroke="#000" stroke-width="1.05" stroke-linejoin="round">
<rect x="380.4" y="540.9" width="28.900000000000034" height="25.100000000000023" fill="#fff"/>
<path d="M409.3 540.9L419.1 534.3V559.4L409.3 566Z" fill="#808080"/>
<rect x="380.4" y="490.6" width="28.900000000000034" height="50.299999999999955" fill="#303030"/>
<path d="M409.3 490.6L419.1 484.0V534.3L409.3 540.9Z" fill="#1d1d1d"/>
<path d="M380.4 490.6L390.2 484.0H419.1L409.3 490.6Z" fill="#222"/>
</g>
<g transform="translate(358.1 455) scale(1.175 1)">
<text x="0" y="0" font-size="5.7" font-weight="bold" text-anchor="middle" font-family='"Liberation Sans", Arial, sans-serif'>Lin-HLA-DR-CD33+ ImC</text>
</g>
<g transform="translate(355.7 465.5) scale(1.1 1)">
<text x="0" y="0" font-size="5.6" font-weight="bold" text-anchor="middle" font-family='"Liberation Sans", Arial, sans-serif'>p=0.012</text>
</g>
<path d="M327 477.3V470.3H400.5V477" fill="none" stroke="#000" stroke-width="1.1"/>
<rect x="434.2" y="466.9" width="60" height="18.3" fill="#fff" stroke="#444" stroke-width="0.8"/>
<rect x="436.6" y="470.6" width="3.7" height="4.0" fill="#222" stroke="#000" stroke-width="0.8"/>
<text x="441.5" y="474.3" font-size="5.7" font-weight="normal" text-anchor="start" font-family='"Liberation Sans", Arial, sans-serif'>p53 non-responders</text>
<rect x="436.6" y="479.3" width="3.7" height="4.0" fill="#fff" stroke="#000" stroke-width="0.8"/>
<text x="441.5" y="482.7" font-size="5.7" font-weight="normal" text-anchor="start" font-family='"Liberation Sans", Arial, sans-serif'>p53 responders</text>
<text x="315.8" y="579.7" font-size="5.8" font-weight="normal" text-anchor="middle" font-family='"Liberation Sans", Arial, sans-serif'>Control level</text>
<text x="388.6" y="579.7" font-size="5.8" font-weight="normal" text-anchor="middle" font-family='"Liberation Sans", Arial, sans-serif'>Increased level</text>
</g>
</svg>
</body></html>
